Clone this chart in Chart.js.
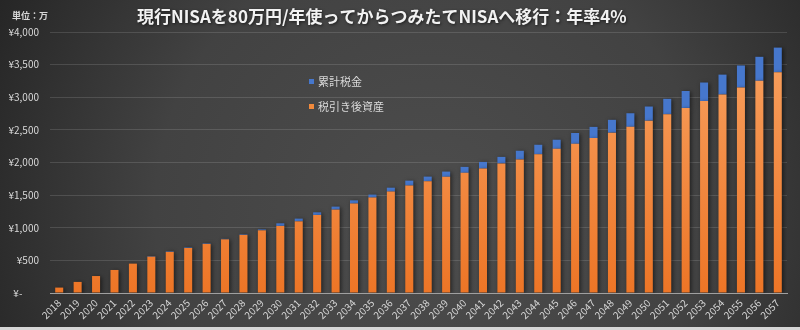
<!DOCTYPE html>
<html>
<head>
<meta charset="utf-8">
<script src="https://cdn.jsdelivr.net/npm/chart.js@4"></script>
<style>
  body { margin: 0; background: #333; }
  #wrap { width: 800px; height: 330px; position: relative; }
</style>
</head>
<body>
<div id="wrap"><canvas id="NisaChart"></canvas></div>
<script>
var years = ['2018', '2019', '2020', '2021', '2022', '2023', '2024', '2025', '2026', '2027',
             '2028', '2029', '2030', '2031', '2032', '2033', '2034', '2035', '2036', '2037',
             '2038', '2039', '2040', '2041', '2042', '2043', '2044', '2045', '2046', '2047',
             '2048', '2049', '2050', '2051', '2052', '2053', '2054', '2055', '2056', '2057'];

// 税引き後資産 (万円)
var afterTax = [83, 170, 260, 353, 450, 557, 630, 690, 752, 822,
                890, 960, 1028, 1098, 1196, 1278, 1370, 1462, 1554, 1646,
                1712, 1780, 1841, 1907, 1986, 2047, 2126, 2209, 2286, 2375,
                2457, 2546, 2641, 2740, 2836, 2941, 3042, 3149, 3252, 3384];

// 累計税金 (万円)
var cumTax = [0, 0, 0, 0, 0, 8, 8, 8, 8, 8,
              8, 15, 40, 42, 40, 46, 50, 46, 60, 76,
              72, 81, 92, 102, 100, 133, 146, 140, 166, 171,
              197, 209, 217, 236, 260, 285, 305, 338, 368, 377];

var legendItems = ['累計税金', '税引き後資産'];
var titleText = '現行NISAを80万円/年使ってからつみたてNISAへ移行：年率4%';
var unitText = '単位：万';

var FONT = "'Noto Sans CJK JP', 'Noto Sans', sans-serif";
Chart.defaults.font.family = FONT;

var orangeFill = function (context) {
    var area = context.chart.chartArea;
    if (!area) return '#f28a3c';
    var g = context.chart.ctx.createLinearGradient(0, area.top, 0, area.bottom);
    g.addColorStop(0, '#f8a363');
    g.addColorStop(1, '#ed7526');
    return g;
};

var backdrop = {
    id: 'backdrop',
    beforeDraw: function (chart) {
        var c = chart.ctx;
        c.save();
        var g = c.createRadialGradient(430, 210, 0, 430, 210, 500);
        g.addColorStop(0, '#4d4d4d');
        g.addColorStop(0.55, '#424242');
        g.addColorStop(1, '#232323');
        c.fillStyle = g;
        c.fillRect(0, 0, chart.width, chart.height);
        c.fillStyle = '#d6d6d6';
        c.fillRect(0, chart.height - 3, chart.width, 3);
        c.restore();
    },
    beforeDatasetsDraw: function (chart) {
        var c = chart.ctx;
        c.save();
        c.shadowColor = 'rgba(0,0,0,0.55)';
        c.shadowBlur = 4;
        c.shadowOffsetX = 1.5;
        c.shadowOffsetY = 1;
    },
    afterDatasetsDraw: function (chart) {
        chart.ctx.restore();
    },
    afterDraw: function (chart) {
        var c = chart.ctx;
        c.save();
        c.textBaseline = 'middle';
        // title
        c.shadowColor = 'rgba(0,0,0,0.6)';
        c.shadowBlur = 3;
        c.shadowOffsetX = 1;
        c.shadowOffsetY = 1;
        c.fillStyle = '#f2f2f2';
        c.font = 'bold 17px ' + FONT;
        c.fillText(titleText, 137, 17);
        c.shadowColor = 'transparent';
        // unit
        c.fillStyle = '#d9d9d9';
        c.font = 'bold 9px ' + FONT;
        c.fillText(unitText, 12, 16);
        // legend
        var colors = ['#4677cc', '#f28a3c'];
        var ys = [81.5, 106.5];
        c.font = '11px ' + FONT;
        for (var i = 0; i < legendItems.length; i++) {
            c.fillStyle = colors[i];
            c.fillRect(309, ys[i] - 2.5, 5, 5);
            c.fillStyle = '#d9d9d9';
            c.fillText(legendItems[i], 318, ys[i]);
        }
        c.restore();
    }
};

var ctx = document.getElementById('NisaChart');

var NisaChart = new Chart(ctx, {
    type: 'bar',
    data: {
        labels: years,
        datasets: [{
            label: '税引き後資産',
            data: afterTax,
            backgroundColor: orangeFill,
            stack: 'a',
            categoryPercentage: 0.87,
            barPercentage: 0.5
        }, {
            label: '累計税金',
            data: cumTax,
            backgroundColor: '#4677cc',
            stack: 'a',
            categoryPercentage: 0.87,
            barPercentage: 0.5
        }]
    },
    options: {
        responsive: true,
        maintainAspectRatio: false,
        animation: false,
        layout: {
            padding: { top: 32, right: 13, bottom: 0, left: 0 }
        },
        scales: {
            x: {
                stacked: true,
                grid: { display: false, drawTicks: false },
                border: { color: '#a0a0a0', width: 1 },
                ticks: {
                    color: '#d4d4d4',
                    font: { size: 10 },
                    autoSkip: false,
                    minRotation: 45,
                    maxRotation: 45,
                    padding: 4
                },
                afterFit: function (scale) { scale.height = 37; }
            },
            y: {
                stacked: true,
                min: 0,
                max: 4000,
                grid: { color: 'rgba(255,255,255,0.13)', drawTicks: false },
                border: { display: false },
                ticks: {
                    stepSize: 500,
                    color: '#d9d9d9',
                    font: { size: 10 },
                    padding: 11,
                    callback: function (v) {
                        if (v === 0) return '¥-\u2007\u2007\u2007';
                        return '¥' + v.toLocaleString('en-US');
                    }
                },
                afterFit: function (scale) { scale.width = 50; }
            }
        },
        plugins: {
            legend: { display: false },
            title: { display: false },
            tooltip: { enabled: false }
        }
    },
    plugins: [backdrop]
});
</script>
</body>
</html>
